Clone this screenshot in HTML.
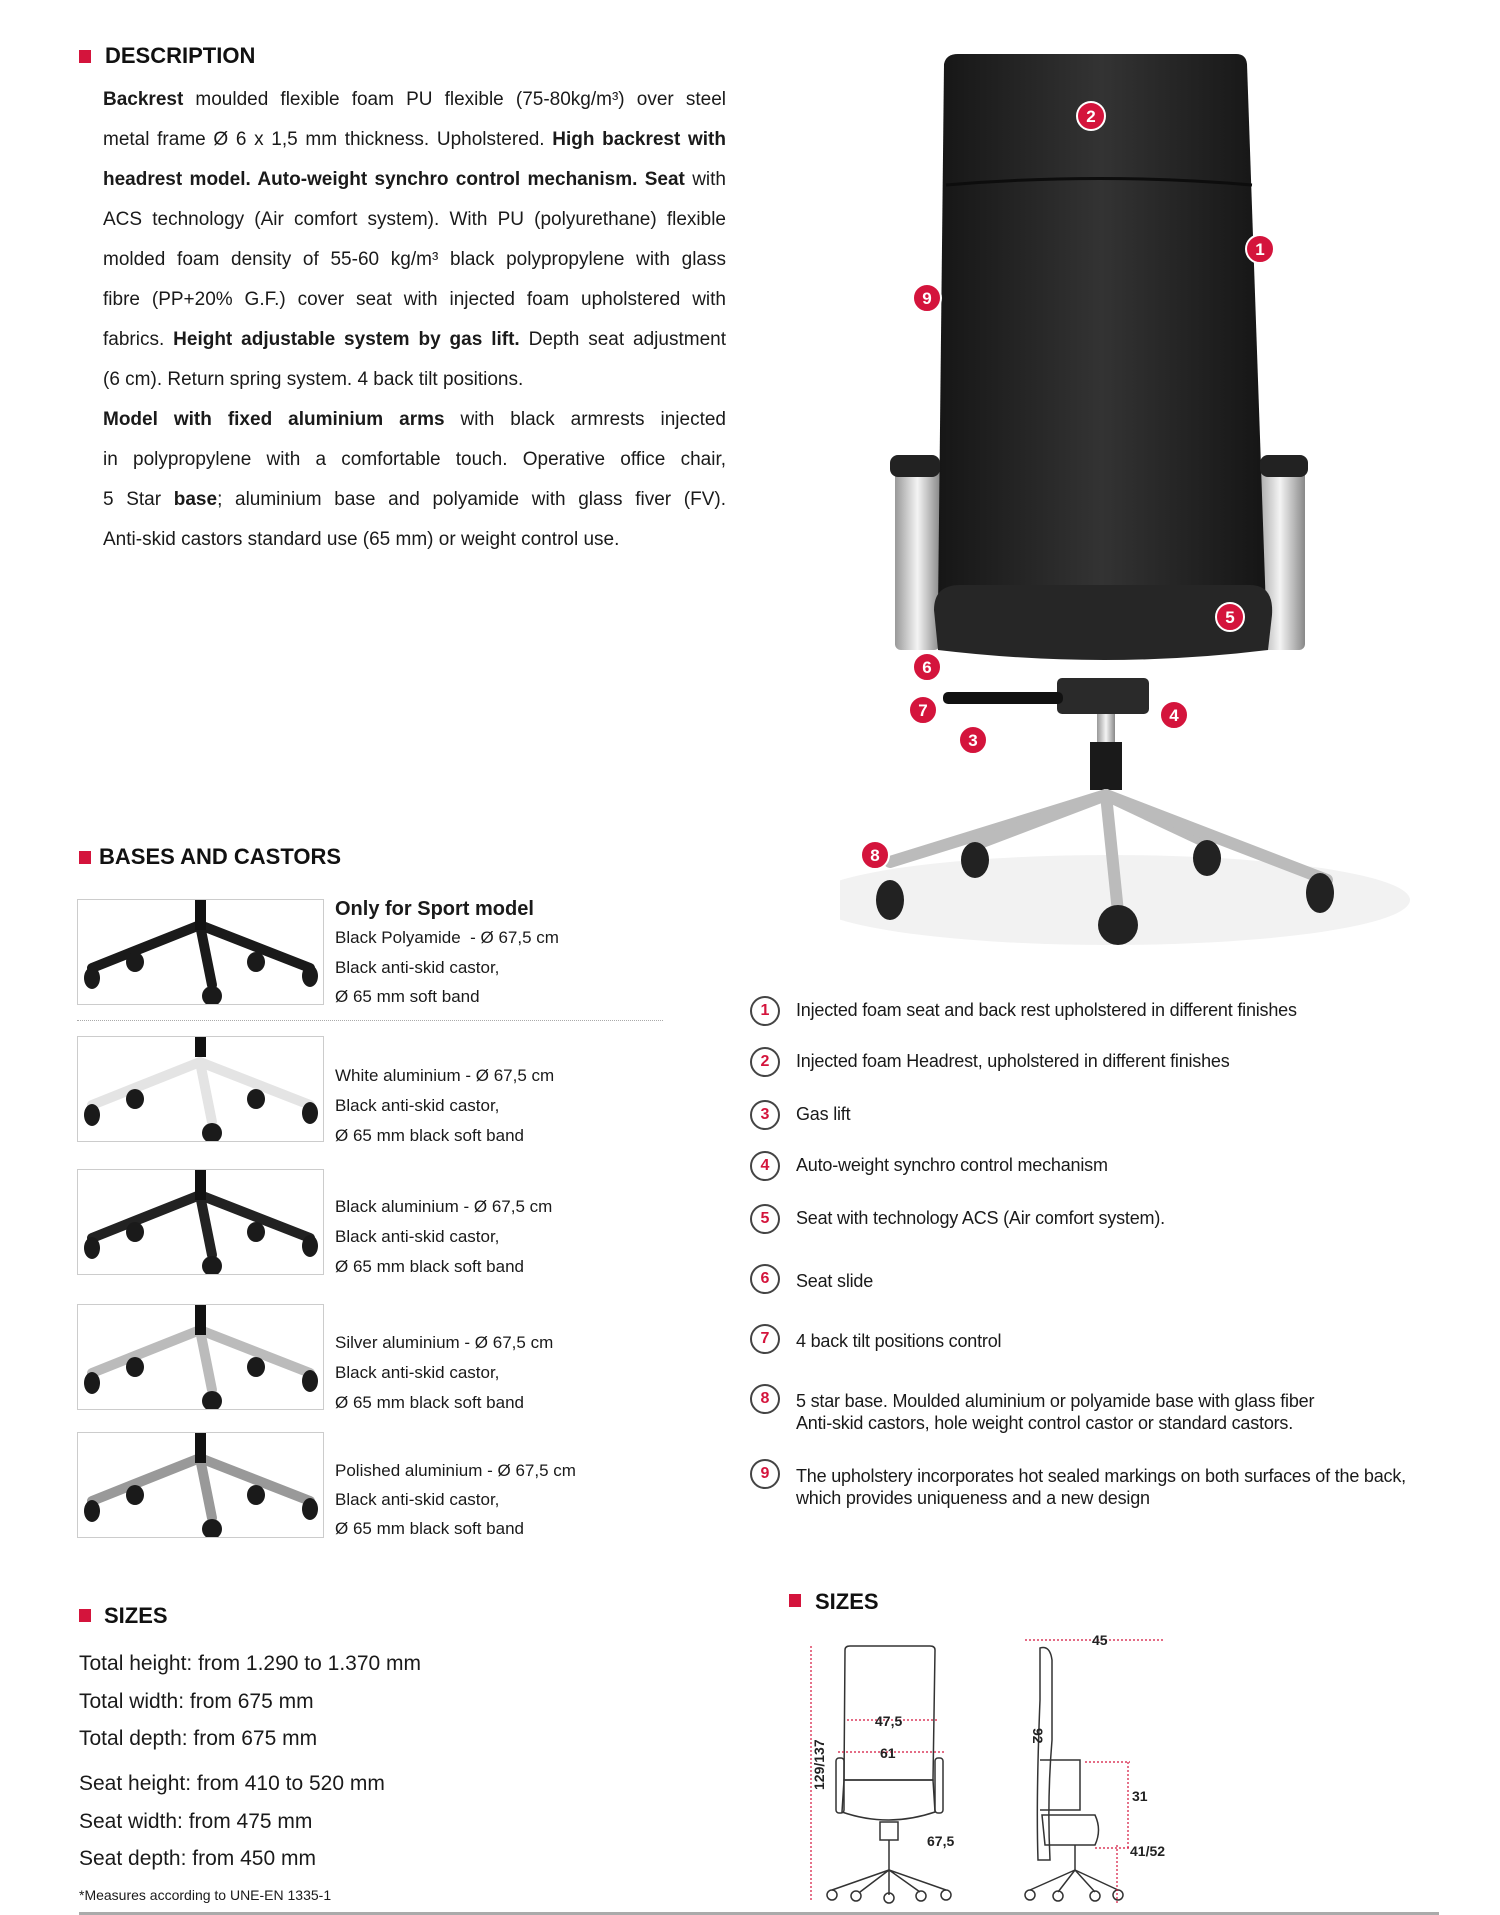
<!DOCTYPE html>
<html><head><meta charset="utf-8"><style>
body{margin:0;background:#fff;width:1500px;height:1915px;position:relative;overflow:hidden;font-family:"Liberation Sans Narrow","Liberation Sans",sans-serif;color:#1a1a1a}
.a{position:absolute;white-space:nowrap}
.h{font-weight:bold;font-size:22px;color:#111}
.sq{position:absolute;width:12px;height:13px;background:#d4143c}
.dl{position:absolute;left:103px;width:623px;font-size:19px;line-height:24px;text-align:justify;text-align-last:justify;white-space:nowrap}
.dl.l{text-align-last:left}
.bt{position:absolute;left:335px;font-size:17px;line-height:20px}
.box{position:absolute;left:77px;width:245px;height:104px;border:1px solid #ccc;background:#fff}
.lg{position:absolute;left:796px;font-size:18px;line-height:22px;letter-spacing:-0.2px}
.c{position:absolute;left:750px;width:26px;height:26px;border:2px solid #444;border-radius:50%;color:#d4143c;font-weight:bold;font-size:16px;text-align:center;line-height:26px;box-sizing:content-box}
.st{position:absolute;left:79px;font-size:21px}
</style></head><body>

<div class="sq" style="left:79px;top:50px"></div><div class="a h" style="left:105px;top:43px">DESCRIPTION</div>
<div class="dl" style="top:88px"><b>Backrest</b> moulded flexible foam PU flexible (75-80kg/m³) over steel</div>
<div class="dl" style="top:128px">metal frame Ø 6 x 1,5 mm thickness. Upholstered. <b>High backrest with</b></div>
<div class="dl" style="top:168px"><b>headrest model. Auto-weight synchro control mechanism. Seat</b> with</div>
<div class="dl" style="top:208px">ACS technology (Air comfort system). With PU (polyurethane) flexible</div>
<div class="dl" style="top:248px">molded foam density of 55-60 kg/m³ black polypropylene with glass</div>
<div class="dl" style="top:288px">fibre (PP+20% G.F.) cover seat with injected foam upholstered with</div>
<div class="dl" style="top:328px">fabrics. <b>Height adjustable system by gas lift.</b> Depth seat adjustment</div>
<div class="dl l" style="top:368px">(6 cm). Return spring system. 4 back tilt positions.</div>
<div class="dl" style="top:408px"><b>Model with fixed aluminium arms</b> with black armrests injected</div>
<div class="dl" style="top:448px">in polypropylene with a comfortable touch. Operative office chair,</div>
<div class="dl" style="top:488px">5 Star <b>base</b>; aluminium base and polyamide with glass fiver (FV).</div>
<div class="dl l" style="top:528px">Anti-skid castors standard use (65 mm) or weight control use.</div>

<!-- chair photo -->
<svg class="a" style="left:840px;top:40px" width="620" height="940" viewBox="840 40 620 940">
<defs>
<linearGradient id="bk" x1="0" x2="1"><stop offset="0" stop-color="#161616"/><stop offset=".5" stop-color="#333"/><stop offset="1" stop-color="#151515"/></linearGradient>
<linearGradient id="al" x1="0" x2="1"><stop offset="0" stop-color="#999"/><stop offset=".5" stop-color="#f4f4f4"/><stop offset="1" stop-color="#888"/></linearGradient>
</defs>
<ellipse cx="1110" cy="900" rx="300" ry="45" fill="#f2f2f2"/>
<rect x="1255" y="465" width="50" height="185" rx="6" fill="url(#al)"/>
<rect x="895" y="465" width="45" height="185" rx="6" fill="url(#al)"/>
<path d="M944 64 Q946 54 958 54 L1236 54 Q1246 54 1247 64 L1266 610 L938 610 Z" fill="url(#bk)"/>
<path d="M946 185 Q1100 172 1252 185" stroke="#0d0d0d" stroke-width="3" fill="none"/>
<rect x="890" y="455" width="50" height="22" rx="8" fill="#222"/>
<rect x="1260" y="455" width="48" height="22" rx="8" fill="#222"/>
<path d="M934 610 Q934 585 960 585 L1250 585 Q1274 585 1272 615 L1268 650 Q1105 670 938 650 Z" fill="#262626"/>
<rect x="1057" y="678" width="92" height="36" rx="5" fill="#2a2a2a"/>
<rect x="943" y="692" width="120" height="12" rx="5" fill="#111"/>
<rect x="1097" y="714" width="18" height="30" fill="url(#al)"/>
<rect x="1090" y="742" width="32" height="48" fill="#1a1a1a"/>
<g stroke="#bbb" stroke-width="12" stroke-linecap="round">
<line x1="1106" y1="795" x2="890" y2="862"/><line x1="1106" y1="795" x2="977" y2="844"/>
<line x1="1106" y1="795" x2="1210" y2="844"/><line x1="1106" y1="795" x2="1327" y2="880"/>
<line x1="1106" y1="795" x2="1118" y2="912"/></g>
<g fill="#222"><ellipse cx="890" cy="900" rx="14" ry="20"/><ellipse cx="975" cy="860" rx="14" ry="18"/>
<ellipse cx="1207" cy="858" rx="14" ry="18"/><ellipse cx="1320" cy="893" rx="14" ry="20"/><ellipse cx="1118" cy="925" rx="20" ry="20"/></g>
<g fill="#d4143c" stroke="#fff" stroke-width="2">
<circle cx="1091" cy="116" r="14"/><circle cx="1260" cy="249" r="14"/><circle cx="927" cy="298" r="14"/>
<circle cx="1230" cy="617" r="14"/><circle cx="927" cy="667" r="14"/><circle cx="923" cy="710" r="14"/>
<circle cx="1174" cy="715" r="14"/><circle cx="973" cy="740" r="14"/><circle cx="875" cy="855" r="14"/></g>
<g fill="#fff" font-weight="bold" font-size="17" text-anchor="middle" font-family="Liberation Sans">
<text x="1091" y="122">2</text><text x="1260" y="255">1</text><text x="927" y="304">9</text>
<text x="1230" y="623">5</text><text x="927" y="673">6</text><text x="923" y="716">7</text>
<text x="1174" y="721">4</text><text x="973" y="746">3</text><text x="875" y="861">8</text></g>
</svg>

<div class="sq" style="left:79px;top:851px"></div><div class="a h" style="left:99px;top:844px">BASES AND CASTORS</div>

<svg width="0" height="0" style="position:absolute"><defs>
<g id="cas" fill="#1a1a1a"><ellipse cx="14" cy="78" rx="8" ry="11"/><ellipse cx="57" cy="62" rx="9" ry="10"/><ellipse cx="178" cy="62" rx="9" ry="10"/><ellipse cx="232" cy="76" rx="8" ry="11"/><circle cx="134" cy="96" r="10"/></g>
</defs></svg>

<div class="box" style="top:899px"><svg width="245" height="104"><g stroke="#1a1a1a" stroke-width="10" stroke-linecap="round"><line x1="122" y1="25" x2="14" y2="68"/><line x1="122" y1="25" x2="232" y2="68"/><line x1="122" y1="25" x2="134" y2="85"/></g><rect x="117" y="0" width="11" height="30" fill="#111"/><use href="#cas"/></svg></div>
<div class="a" style="left:335px;top:898px;font-size:20px;font-weight:bold">Only for Sport model</div>
<div class="bt" style="top:928px">Black Polyamide &nbsp;- Ø 67,5 cm</div>
<div class="bt" style="top:958px">Black anti-skid castor,</div>
<div class="bt" style="top:987px">Ø 65 mm soft band</div>
<div style="position:absolute;left:77px;top:1020px;width:586px;border-top:1px dotted #aaa"></div>

<div class="box" style="top:1036px"><svg width="245" height="104"><g stroke="#e4e4e4" stroke-width="10" stroke-linecap="round"><line x1="122" y1="25" x2="14" y2="68"/><line x1="122" y1="25" x2="232" y2="68"/><line x1="122" y1="25" x2="134" y2="85"/></g><rect x="117" y="0" width="11" height="20" fill="#111"/><use href="#cas"/></svg></div>
<div class="bt" style="top:1066px">White aluminium - Ø 67,5 cm</div>
<div class="bt" style="top:1096px">Black anti-skid castor,</div>
<div class="bt" style="top:1126px">Ø 65 mm black soft band</div>

<div class="box" style="top:1169px"><svg width="245" height="104"><g stroke="#222" stroke-width="10" stroke-linecap="round"><line x1="122" y1="25" x2="14" y2="68"/><line x1="122" y1="25" x2="232" y2="68"/><line x1="122" y1="25" x2="134" y2="85"/></g><rect x="117" y="0" width="11" height="30" fill="#111"/><use href="#cas"/></svg></div>
<div class="bt" style="top:1197px">Black aluminium - Ø 67,5 cm</div>
<div class="bt" style="top:1227px">Black anti-skid castor,</div>
<div class="bt" style="top:1257px">Ø 65 mm black soft band</div>

<div class="box" style="top:1304px"><svg width="245" height="104"><g stroke="#bbb" stroke-width="10" stroke-linecap="round"><line x1="122" y1="25" x2="14" y2="68"/><line x1="122" y1="25" x2="232" y2="68"/><line x1="122" y1="25" x2="134" y2="85"/></g><rect x="117" y="0" width="11" height="30" fill="#111"/><use href="#cas"/></svg></div>
<div class="bt" style="top:1333px">Silver aluminium - Ø 67,5 cm</div>
<div class="bt" style="top:1363px">Black anti-skid castor,</div>
<div class="bt" style="top:1393px">Ø 65 mm black soft band</div>

<div class="box" style="top:1432px"><svg width="245" height="104"><g stroke="#999" stroke-width="10" stroke-linecap="round"><line x1="122" y1="25" x2="14" y2="68"/><line x1="122" y1="25" x2="232" y2="68"/><line x1="122" y1="25" x2="134" y2="85"/></g><rect x="117" y="0" width="11" height="30" fill="#111"/><use href="#cas"/></svg></div>
<div class="bt" style="top:1461px">Polished aluminium - Ø 67,5 cm</div>
<div class="bt" style="top:1490px">Black anti-skid castor,</div>
<div class="bt" style="top:1519px">Ø 65 mm black soft band</div>

<!-- legend -->
<div class="c" style="top:996px">1</div><div class="lg" style="top:999px">Injected foam seat and back rest upholstered in different finishes</div>
<div class="c" style="top:1047px">2</div><div class="lg" style="top:1050px">Injected foam Headrest, upholstered in different finishes</div>
<div class="c" style="top:1100px">3</div><div class="lg" style="top:1103px">Gas lift</div>
<div class="c" style="top:1151px">4</div><div class="lg" style="top:1154px">Auto-weight synchro control mechanism</div>
<div class="c" style="top:1204px">5</div><div class="lg" style="top:1207px">Seat with technology ACS (Air comfort system).</div>
<div class="c" style="top:1264px">6</div><div class="lg" style="top:1270px">Seat slide</div>
<div class="c" style="top:1324px">7</div><div class="lg" style="top:1330px">4 back tilt positions control</div>
<div class="c" style="top:1384px">8</div><div class="lg" style="top:1390px">5 star base. Moulded aluminium or polyamide base with glass fiber<br>Anti-skid castors, hole weight control castor or standard castors.</div>
<div class="c" style="top:1459px">9</div><div class="lg" style="top:1465px">The upholstery incorporates hot sealed markings on both surfaces of the back,<br>which provides uniqueness and a new design</div>

<!-- sizes left -->
<div class="sq" style="left:79px;top:1609px"></div><div class="a h" style="left:104px;top:1603px">SIZES</div>
<div class="st a" style="top:1652px">Total height: from 1.290 to 1.370 mm</div>
<div class="st a" style="top:1690px">Total width: from 675 mm</div>
<div class="st a" style="top:1727px">Total depth: from 675 mm</div>
<div class="st a" style="top:1772px">Seat height: from 410 to 520 mm</div>
<div class="st a" style="top:1810px">Seat width: from 475 mm</div>
<div class="st a" style="top:1847px">Seat depth: from 450 mm</div>
<div class="a" style="left:79px;top:1887px;font-size:14px">*Measures according to UNE-EN 1335-1</div>
<div style="position:absolute;left:79px;top:1912px;width:1360px;height:3px;background:#aaa"></div>

<!-- sizes right -->
<div class="sq" style="left:789px;top:1594px"></div><div class="a h" style="left:815px;top:1589px">SIZES</div>
<svg class="a" style="left:800px;top:1620px" width="400" height="290" viewBox="800 1620 400 290">
<g fill="none" stroke="#333" stroke-width="1.5">
<path d="M845 1650 Q845 1646 850 1646 L930 1646 Q935 1646 935 1650 L933 1780 L844 1780 Z"/>
<rect x="836" y="1758" width="8" height="55" rx="3"/><rect x="935" y="1758" width="8" height="55" rx="3"/>
<path d="M844 1780 L933 1780 L935 1812 Q888 1828 842 1812 Z"/>
<rect x="880" y="1822" width="18" height="18"/><line x1="889" y1="1840" x2="889" y2="1870"/>
<path d="M889 1870 L832 1890 M889 1870 L860 1892 M889 1870 L889 1895 M889 1870 L920 1892 M889 1870 L946 1890"/>
<circle cx="832" cy="1895" r="5"/><circle cx="856" cy="1896" r="5"/><circle cx="889" cy="1898" r="5"/><circle cx="921" cy="1896" r="5"/><circle cx="946" cy="1895" r="5"/>
<path d="M1040 1648 Q1050 1645 1052 1660 L1052 1740 Q1047 1800 1050 1860 L1038 1860 Q1036 1800 1040 1700 Z"/>
<path d="M1040 1760 L1080 1760 L1080 1810 L1040 1810"/>
<path d="M1042 1815 L1095 1815 Q1102 1830 1095 1845 L1045 1845 Z"/>
<line x1="1075" y1="1845" x2="1075" y2="1870"/>
<path d="M1075 1870 L1030 1890 M1075 1870 L1058 1892 M1075 1870 L1095 1892 M1075 1870 L1118 1890"/>
<circle cx="1030" cy="1895" r="5"/><circle cx="1058" cy="1896" r="5"/><circle cx="1095" cy="1896" r="5"/><circle cx="1118" cy="1895" r="5"/>
</g>
<g stroke="#d4143c" stroke-width="1.2" stroke-dasharray="2 2" fill="none">
<line x1="811" y1="1646" x2="811" y2="1900"/><line x1="847" y1="1720" x2="938" y2="1720"/>
<line x1="838" y1="1752" x2="944" y2="1752"/><line x1="1025" y1="1640" x2="1165" y2="1640"/>
<line x1="1128" y1="1762" x2="1128" y2="1848"/><line x1="1117" y1="1845" x2="1117" y2="1905"/>
<line x1="1085" y1="1762" x2="1130" y2="1762"/><line x1="1095" y1="1848" x2="1130" y2="1848"/>
</g>
<g font-family="Liberation Sans Narrow,Liberation Sans" font-weight="bold" font-size="14" fill="#222">
<text x="875" y="1726">47,5</text><text x="880" y="1758">61</text><text x="927" y="1846">67,5</text>
<text x="1092" y="1645">45</text><text x="1132" y="1801">31</text><text x="1130" y="1856">41/52</text>
<text transform="translate(824,1790) rotate(-90)">129/137</text>
<text transform="translate(1033,1728) rotate(90)">92</text>
</g>
</svg>
</body></html>
